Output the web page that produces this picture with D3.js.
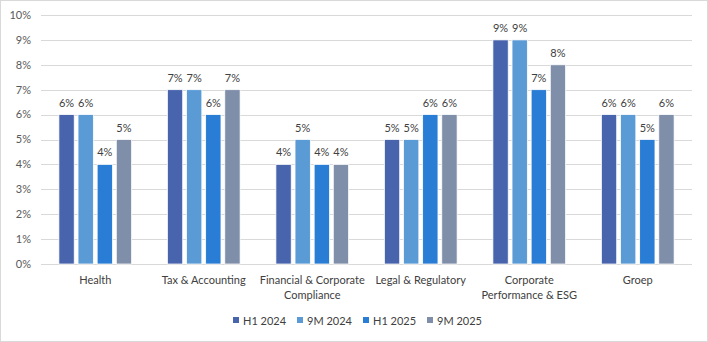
<!DOCTYPE html>
<html>
<head>
<meta charset="utf-8">
<script src="https://cdn.jsdelivr.net/npm/d3@7"></script>
<style>
  body { margin: 0; background: #fff; }
  svg { display: block; font-family: Lato, "Open Sans", sans-serif; }
</style>
</head>
<body>
<svg id="chart"></svg>
<script>
const categories = [
  ["Health"],
  ["Tax & Accounting"],
  ["Financial & Corporate", "Compliance"],
  ["Legal & Regulatory"],
  ["Corporate", "Performance & ESG"],
  ["Groep"]
];
const seriesNames = ["H1 2024", "9M 2024", "H1 2025", "9M 2025"];
const h12024 = [6, 7, 4, 5, 9, 6];
const m92024 = [6, 7, 5, 5, 9, 6];
const h12025 = [4, 6, 4, 6, 7, 5];
const m92025 = [5, 7, 4, 6, 8, 6];
const yTicks = [0, 1, 2, 3, 4, 5, 6, 7, 8, 9, 10];

const series = [h12024, m92024, h12025, m92025];
const colors = ["#4864ad", "#5b9bd5", "#2a7dd5", "#7f8ea9"];

const W = 708, H = 342;
const margin = { top: 15, right: 16, bottom: 78, left: 41 };
const width = W - margin.left - margin.right;
const height = H - margin.top - margin.bottom;

const svg = d3.select("#chart").attr("width", W).attr("height", H);

svg.append("rect")
  .attr("x", 0.5).attr("y", 0.5)
  .attr("width", W - 1).attr("height", H - 1)
  .attr("fill", "#fff").attr("stroke", "#d9d9d9");

const g = svg.append("g").attr("transform", `translate(${margin.left},${margin.top})`);

const x0 = d3.scaleBand().domain(d3.range(categories.length)).range([0, width]);
const x1 = d3.scaleBand().domain(d3.range(series.length))
  .range([x0.bandwidth() * 0.165, x0.bandwidth() * 0.835]).paddingInner(0.2);
const y = d3.scaleLinear().domain([0, 10]).range([height, 0]);

// gridlines
g.selectAll(".grid").data(yTicks).enter().append("line")
  .attr("x1", 0).attr("x2", width)
  .attr("y1", d => Math.round(y(d)) + 0.5).attr("y2", d => Math.round(y(d)) + 0.5)
  .attr("stroke", "#d9d9d9").attr("stroke-width", 1);

// y axis labels
g.selectAll(".ytick").data(yTicks).enter().append("text")
  .attr("x", -10).attr("y", d => y(d)).attr("dy", "0.35em")
  .attr("text-anchor", "end").attr("font-size", 11).attr("fill", "#595959")
  .text(d => d + "%");

// bars
const groups = g.selectAll(".cat").data(categories).enter().append("g")
  .attr("transform", (d, i) => `translate(${x0(i)},0)`);

groups.each(function(c, ci) {
  const grp = d3.select(this);
  series.forEach((s, si) => {
    grp.append("rect")
      .attr("x", x1(si)).attr("y", y(s[ci]))
      .attr("width", x1.bandwidth()).attr("height", height - y(s[ci]))
      .attr("fill", colors[si]).attr("stroke", "#fff").attr("stroke-width", 0.75);
    grp.append("text")
      .attr("x", x1(si) + x1.bandwidth() / 2).attr("y", y(s[ci]) - 8)
      .attr("text-anchor", "middle").attr("font-size", 11).attr("fill", "#404040")
      .text(s[ci] + "%");
  });
});

// category labels
groups.append("text")
  .attr("x", x0.bandwidth() / 2).attr("y", height + 20)
  .attr("text-anchor", "middle").attr("font-size", 11).attr("fill", "#404040")
  .selectAll("tspan").data(d => d).enter().append("tspan")
  .attr("x", x0.bandwidth() / 2).attr("dy", (d, i) => i === 0 ? 0 : 15)
  .text(d => d);

// legend
const legendX = [233, 297, 363, 427];
const legend = svg.append("g").attr("transform", "translate(0,321)");
seriesNames.forEach((name, i) => {
  legend.append("rect")
    .attr("x", legendX[i]).attr("y", -4).attr("width", 6).attr("height", 6)
    .attr("fill", colors[i]);
  legend.append("text")
    .attr("x", legendX[i] + 10).attr("y", 0).attr("dy", "0.35em")
    .attr("font-size", 11).attr("fill", "#404040")
    .text(name);
});
</script>
</body>
</html>
